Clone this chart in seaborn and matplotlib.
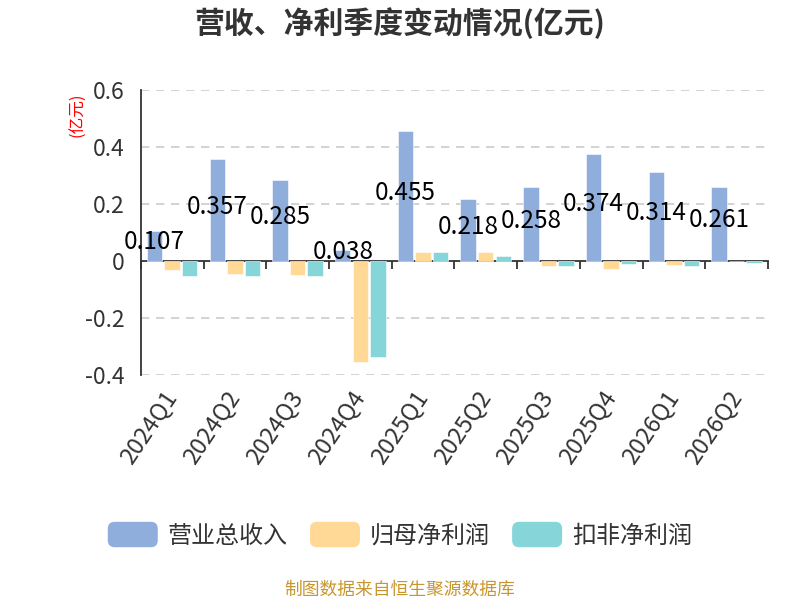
import matplotlib
matplotlib.use('Agg')
import matplotlib.pyplot as plt
import seaborn as sns
import pandas as pd
from matplotlib.patches import FancyBboxPatch
from matplotlib.legend_handler import HandlerPatch

quarters = ['2024Q1', '2024Q2', '2024Q3', '2024Q4', '2025Q1',
            '2025Q2', '2025Q3', '2025Q4', '2026Q1', '2026Q2']
revenue = [0.107, 0.357, 0.285, 0.038, 0.455, 0.218, 0.258, 0.374, 0.314, 0.261]
net_profit = [-0.033, -0.044, -0.048, -0.354, 0.030, 0.030, -0.018, -0.028, -0.014, 0.0]
deducted_profit = [-0.052, -0.052, -0.054, -0.337, 0.030, 0.016, -0.018, -0.009, -0.018, -0.007]
series_names = ['营业总收入', '归母净利润', '扣非净利润']
colors = ['#8FAEDC', '#FFD995', '#86D5D8']

df = pd.DataFrame({
    'quarter': quarters * 3,
    'series': [series_names[0]] * 10 + [series_names[1]] * 10 + [series_names[2]] * 10,
    'value': revenue + net_profit + deducted_profit,
})

sns.set_style('white')
plt.rcParams['font.family'] = ['Noto Sans CJK SC', 'DejaVu Sans']

fig = plt.figure(figsize=(8, 6), dpi=100)
ax = fig.add_axes([0.176, 0.375, 0.784, 0.475])

sns.barplot(data=df, x='quarter', y='value', hue='series', palette=colors,
            saturation=1, width=0.84, gap=0.12, ax=ax, legend=False, errorbar=None,
            edgecolor='white', linewidth=0.4)

ax.set_ylim(-0.4, 0.6)
ax.set_xlim(-0.5, len(quarters) - 0.5)
yticks = [-0.4, -0.2, 0, 0.2, 0.4, 0.6]
ax.set_yticks(yticks)
ax.set_yticklabels(['-0.4', '-0.2', '0', '0.2', '0.4', '0.6'], fontsize=16.5, color='#333333')
for t in yticks:
    if t != 0:
        ax.axhline(t, color='#CCCCCC', linestyle=(0, (5, 4)), linewidth=1.2, zorder=0)

ax.set_xlabel('')
ax.set_ylabel('')
ax.spines['top'].set_visible(False)
ax.spines['right'].set_visible(False)
ax.spines['bottom'].set_visible(False)
ax.spines['left'].set_color('#333333')
ax.spines['left'].set_linewidth(1.3)
ax.tick_params(axis='y', direction='out', length=7, width=1.3, color='#333333', pad=5)
ax.tick_params(axis='x', length=0, pad=13)
ax.set_xticks(range(len(quarters)))
ax.set_xticklabels(quarters, rotation=56, ha='right', va='center',
                   rotation_mode='anchor', fontsize=17, color='#333333')

# zero axis with group boundary ticks
sec = ax.secondary_xaxis(0, transform=ax.transData)
sec.set_xticks([i - 0.5 for i in range(len(quarters) + 1)])
sec.set_xticklabels([])
sec.spines['bottom'].set_color('#333333')
sec.spines['bottom'].set_linewidth(1.3)
sec.tick_params(direction='out', length=6, width=1.3, color='#333333')

# value labels for revenue
n = len(series_names)
bar_w = 0.84 / n
for i, v in enumerate(revenue):
    ax.text(i - bar_w, v / 2 + 0.012, f'{v:.3f}', ha='center', va='center',
            fontsize=17.5, color='black', zorder=5)

fig.text(0.5, 0.962, '营收、净利季度变动情况(亿元)', ha='center', va='center',
         fontsize=21.5, fontweight='bold', color='#333333')
fig.text(0.0975, 0.808, '(亿元)', rotation=90, ha='center', va='center',
         fontsize=12, color='red')


class RoundHandler(HandlerPatch):
    def create_artists(self, legend, orig_handle, xdescent, ydescent,
                       width, height, fontsize, trans):
        p = FancyBboxPatch((-xdescent, -ydescent), width, height,
                           boxstyle='round,pad=0,rounding_size=5',
                           facecolor=orig_handle.get_facecolor(), edgecolor='none',
                           transform=trans)
        return [p]


handles = [plt.Rectangle((0, 0), 1, 1, facecolor=c) for c in colors]
fig.legend(handles, series_names, loc='center', bbox_to_anchor=(0.5, 0.108),
           ncol=3, frameon=False, fontsize=17.3, handlelength=2.08, handleheight=1.25,
           columnspacing=0.92, handletextpad=0.42, labelcolor='#333333',
           handler_map={plt.Rectangle: RoundHandler()})

fig.text(0.5, 0.017, '制图数据来自恒生聚源数据库', ha='center', va='center',
         fontsize=12.8, color='#C8962E')

fig.savefig('out.png', dpi=100)
